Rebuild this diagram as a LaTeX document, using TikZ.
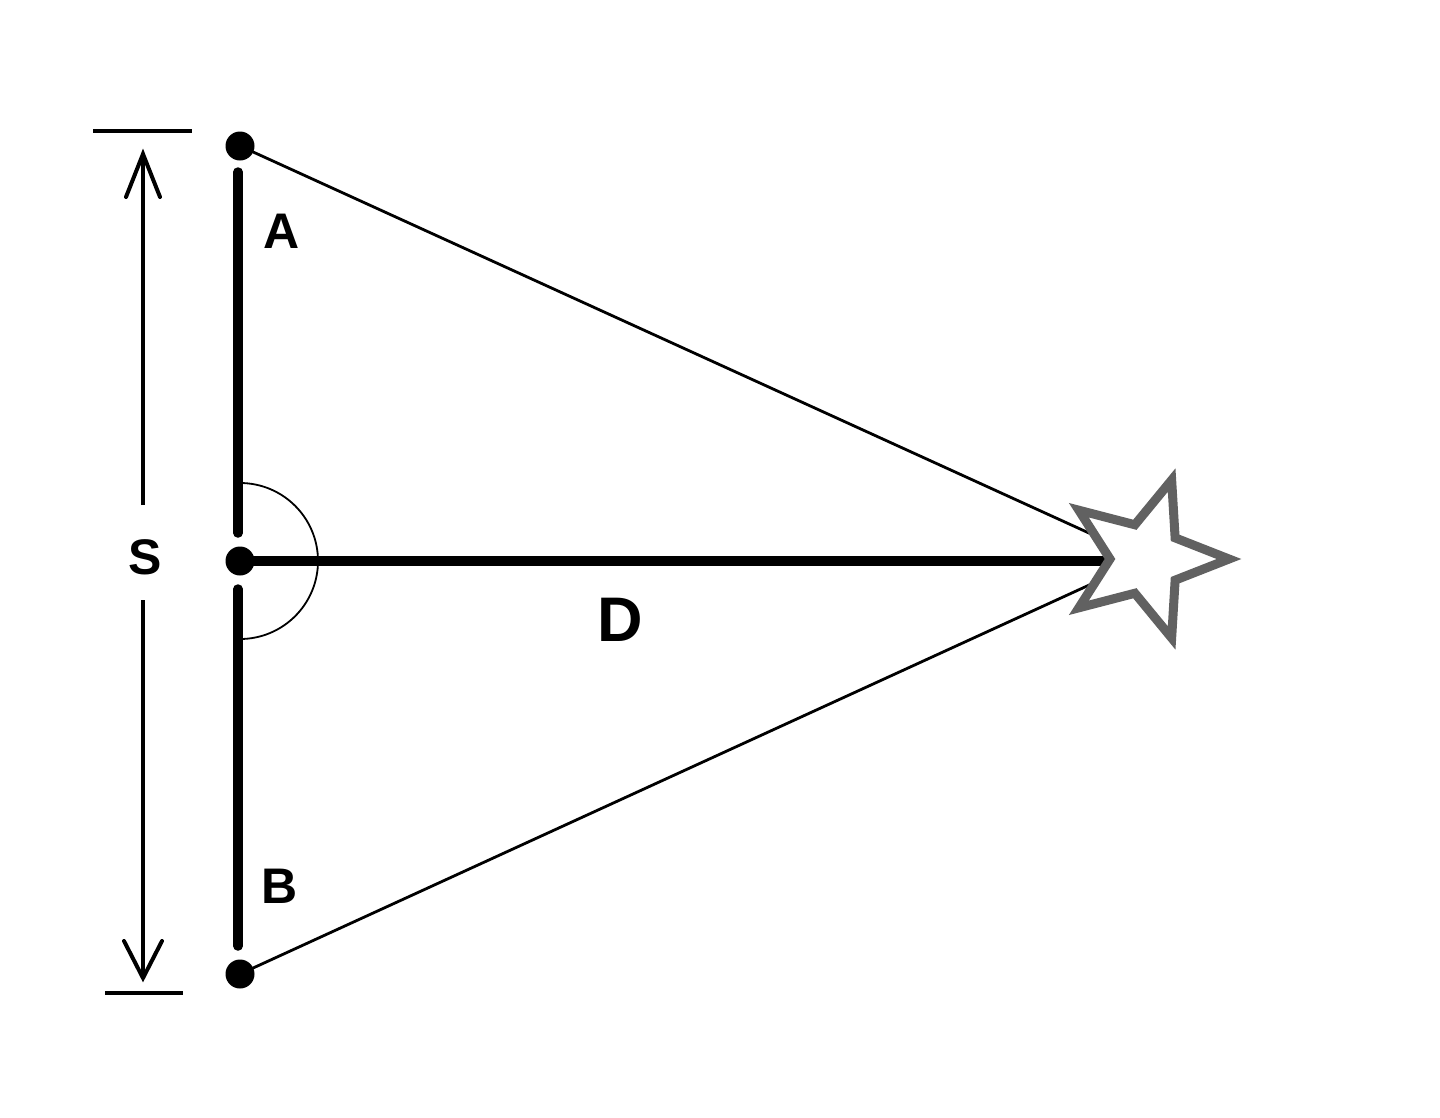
\documentclass[tikz,border=0pt]{standalone}
\usepackage{fontspec}
\setmainfont{Liberation Sans}
\usetikzlibrary{calc}
\begin{document}
\begin{tikzpicture}[x=1pt,y=-1pt,
  thickbar/.style={line width=9.5pt,line cap=round},
  thinline/.style={line width=2.8pt},
  dimline/.style={line width=4pt},
  dot/.style={circle,fill=black,inner sep=0pt,minimum size=29pt},
  lbl/.style={font=\fontsize{50}{60}\selectfont\bfseries,inner sep=0pt},
  starshape/.style={draw=black!62,line width=9pt,fill=white,line join=miter}]
\useasboundingbox (0,0) rectangle (1440,1117);
\fill[white] (0,0) rectangle (1440,1117);
% points
\node[dot] (a) at (240,146) {};
\node[dot] (c) at (240,561) {};
\node[dot] (b) at (240,974) {};
\coordinate (s) at (1146,559);
\coordinate (a1) at (238,172);
\coordinate (a2) at (238,533);
\coordinate (b1) at (238,589);
\coordinate (b2) at (238,946);
\coordinate (d2) at (1110,561);
% thick vertical segments
\draw[thickbar] (a1) -- (a2);
\draw[thickbar] (b1) -- (b2);
% sight lines
\draw[thinline] (a.center) -- (s);
\draw[thinline] (b.center) -- (s);
% distance line
\draw[line width=9.5pt] (c.center) -- (d2);
% right angle arc
\draw[line width=1.8pt] (240,483) arc[start angle=-90,end angle=90,radius=78];
% star
\draw[starshape,shift={(s)}] (0:83) -- (36:36) -- (72:83) -- (108:36)
  -- (144:83) -- (180:36) -- (216:83)
  -- (252:36) -- (288:83) -- (324:36) -- cycle;
% dimension S
\coordinate (t1) at (93,131);
\coordinate (t2) at (192,131);
\coordinate (u1) at (105,993);
\coordinate (u2) at (183,993);
\draw[dimline] (t1) -- (t2);
\draw[dimline] (u1) -- (u2);
\node[lbl] (S) at (145,557) {S};
\coordinate (up) at (143,154);
\coordinate (dn) at (143,978);
\draw[dimline] (143,505) -- (up);
\draw[dimline] (143,600) -- (dn);
\draw[dimline,line cap=round] (126,197) -- (up) -- (160,197);
\draw[dimline,line cap=round] (124,941) -- (dn) -- (162,941);
% labels
\node[lbl] (A) at (282,231) {A};
\node[lbl] (B) at (280,886) {B};
\node[lbl,font=\fontsize{63}{70}\selectfont\bfseries] (D) at (620,620) {D};
\end{tikzpicture}
\end{document}
